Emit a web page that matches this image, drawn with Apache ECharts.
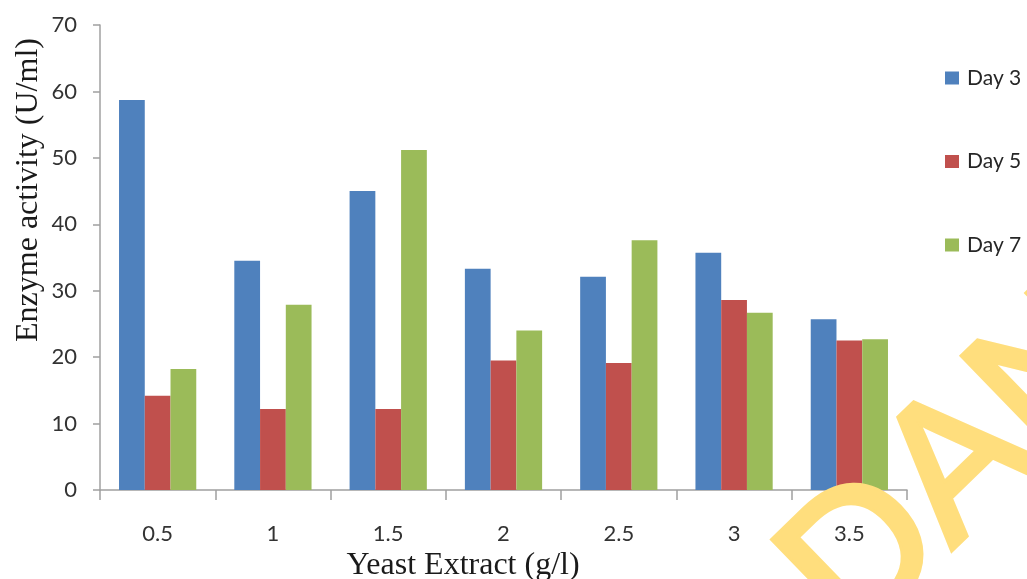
<!DOCTYPE html>
<html>
<head>
<meta charset="utf-8">
<script src="https://cdn.jsdelivr.net/npm/echarts@6/dist/echarts.min.js"></script>
<style>
  html, body { margin: 0; padding: 0; background: #ffffff; }
  #chart { width: 1027px; height: 579px; }
</style>
</head>
<body>
<div id="chart"></div>
<script>
// Yeast extract concentrations (g/l)
var categories = ['0.5', '1', '1.5', '2', '2.5', '3', '3.5'];
// Enzyme activity (U/ml) per sampling day
var day3 = [58.7, 34.5, 45.0, 33.3, 32.1, 35.7, 25.7];
var day5 = [14.2, 12.2, 12.2, 19.5, 19.1, 28.6, 22.5];
var day7 = [18.2, 27.9, 51.2, 24.0, 37.6, 26.7, 22.7];
var seriesNames = ['Day 3', 'Day 5', 'Day 7'];

var chart = echarts.init(document.getElementById('chart'), null, { renderer: 'canvas' });

var axisGrey = '#a0a0a0';
var labelFont = 'Lato, "Open Sans", "Liberation Sans", sans-serif';
var titleFont = '"Liberation Serif", "DejaVu Serif", serif';

function barSeries(name, data, color) {
  return {
    name: name,
    type: 'bar',
    data: data,
    barGap: '0%',
    barCategoryGap: '33%',
    itemStyle: { color: color },
    emphasis: { disabled: true }
  };
}

chart.setOption({
  animation: false,
  backgroundColor: '#ffffff',
  grid: { left: 100, right: 120, top: 25, bottom: 89 },
  legend: {
    orient: 'vertical',
    left: 940,
    top: 62,
    itemWidth: 14,
    itemHeight: 13,
    itemGap: 61.5,
    icon: 'rect',
    data: seriesNames,
    textStyle: { fontFamily: labelFont, fontSize: 21, color: '#262626', lineHeight: 22, padding: [0, 0, 0, 3] }
  },
  xAxis: {
    type: 'category',
    data: categories,
    boundaryGap: true,
    axisLine: { lineStyle: { color: axisGrey, width: 1.5 } },
    axisTick: { show: true, length: 10, inside: false, lineStyle: { color: axisGrey, width: 1.5 } },
    axisLabel: { margin: 33, fontFamily: labelFont, fontSize: 22, color: '#333333' },
    splitLine: { show: false }
  },
  yAxis: {
    type: 'value',
    min: 0,
    max: 70,
    interval: 10,
    axisLine: { show: true, lineStyle: { color: axisGrey, width: 1.5 } },
    axisTick: { show: true, length: 7, lineStyle: { color: axisGrey, width: 1.5 } },
    axisLabel: { margin: 23, fontFamily: labelFont, fontSize: 22, color: '#333333' },
    splitLine: { show: false }
  },
  series: [
    barSeries(seriesNames[0], day3, '#4F81BD'),
    barSeries(seriesNames[1], day5, '#C0504D'),
    barSeries(seriesNames[2], day7, '#9BBB59')
  ],
  graphic: [
    {
      type: 'text',
      x: 29,
      y: 190,
      rotation: Math.PI / 2,
      style: {
        text: 'Enzyme activity (U/ml)',
        font: '32px ' + titleFont,
        fill: '#1a1a1a',
        align: 'center',
        verticalAlign: 'middle'
      }
    },
    {
      type: 'text',
      x: 463,
      y: 566,
      style: {
        text: 'Yeast Extract (g/l)',
        font: '32px ' + titleFont,
        fill: '#1a1a1a',
        align: 'center',
        verticalAlign: 'middle'
      }
    },
    {
      // watermark lettering across the lower right corner
      type: 'text',
      x: 961,
      y: 467,
      z: 100,
      rotation: 0.77,
      style: {
        text: 'DAN',
        font: '190px "Liberation Sans", sans-serif',
        fill: '#FFDE7D',
        stroke: '#FFDE7D',
        lineWidth: 6,
        lineJoin: 'round',
        align: 'center',
        verticalAlign: 'middle'
      }
    }
  ]
});
</script>
</body>
</html>
